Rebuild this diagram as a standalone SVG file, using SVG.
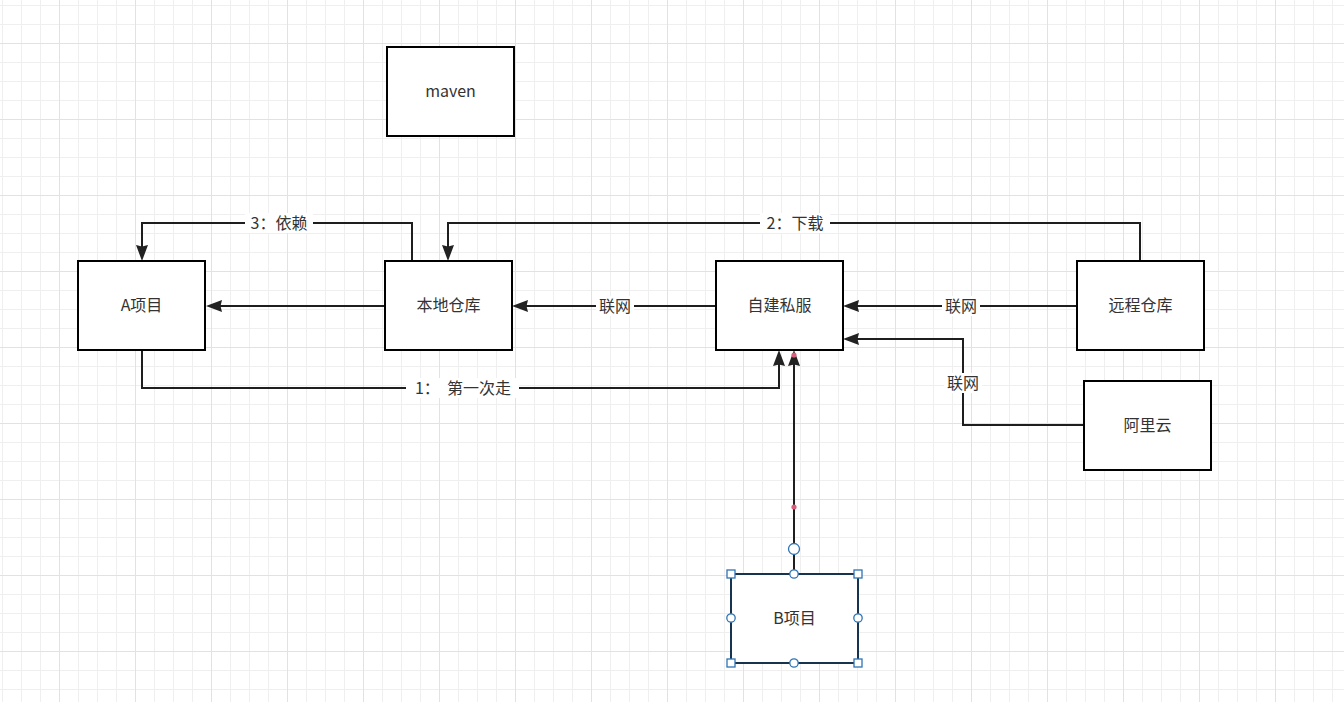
<svg xmlns="http://www.w3.org/2000/svg" width="1344" height="702" viewBox="0 0 1344 702">
  <style>
    .box { fill: #ffffff; stroke: #000000; stroke-width: 2; }
    .lbl { font-family: "Noto Sans CJK SC", "Noto Sans", "Liberation Sans", sans-serif; font-size: 16px; fill: #333333; text-anchor: middle; }
    .edge { fill: none; stroke: #1e1e1e; stroke-width: 2; marker-end: url(#arrow); }
    .lbg { fill: #ffffff; }
    .handle { fill: #ffffff; stroke: #2f73b5; stroke-width: 1.3; }
  </style>
  <defs>
    <pattern id="minor" width="19" height="19" patternUnits="userSpaceOnUse" x="2" y="5">
      <path d="M0,0.5 H19 M0.5,0 V19" stroke="#efefef" stroke-width="1" fill="none"/>
    </pattern>
    <pattern id="major" width="76" height="76" patternUnits="userSpaceOnUse" x="59" y="43">
      <path d="M0,0.5 H76 M0.5,0 V76" stroke="#e2e2e2" stroke-width="1" fill="none"/>
    </pattern>
    <marker id="arrow" viewBox="0 0 16 12" markerWidth="16" markerHeight="12" refX="3" refY="6" orient="auto" markerUnits="userSpaceOnUse">
      <path d="M0,0 L16,6 L0,12 L1.5,6 Z" fill="#222222"/>
    </marker>
  </defs>

  <rect x="0" y="0" width="1344" height="702" fill="#ffffff"/>
  <rect x="0" y="0" width="1344" height="702" fill="url(#minor)"/>
  <rect x="0" y="0" width="1344" height="702" fill="url(#major)"/>

  <g id="connectors">
    <path class="edge" d="M412,261 V223 H142 V248"/>
    <path class="edge" d="M1140,261 V223 H448 V248"/>
    <path class="edge" d="M385,306 H219"/>
    <path class="edge" d="M716,306 H525"/>
    <path class="edge" d="M1077,306 H856"/>
    <path class="edge" d="M1084,425 H963 V339 H856"/>
    <path class="edge" d="M142,350 V388 H779 V363"/>
    <path class="edge" d="M794,574 V363"/>

    <rect class="lbg" x="245" y="213" width="68" height="20"/>
    <text class="lbl" x="279" y="229">3：依赖</text>
    <rect class="lbg" x="760" y="213" width="70" height="20"/>
    <text class="lbl" x="795" y="229">2：下载</text>
    <rect class="lbg" x="596" y="296" width="38" height="20"/>
    <text class="lbl" x="615" y="312">联网</text>
    <rect class="lbg" x="942" y="296" width="38" height="20"/>
    <text class="lbl" x="961" y="312">联网</text>
    <rect class="lbg" x="944" y="373" width="38" height="20"/>
    <text class="lbl" x="963" y="389">联网</text>
    <rect class="lbg" x="406" y="378" width="113" height="20"/>
    <text class="lbl" x="463" y="394" xml:space="preserve">1：  第一次走</text>

    <circle cx="794" cy="355" r="2.6" fill="#d9607a"/>
    <circle cx="794" cy="507" r="2.6" fill="#d9607a"/>
  </g>

  <g id="maven">
    <rect class="box" x="387" y="47" width="127" height="89"/>
    <text class="lbl" x="450.5" y="97">maven</text>
  </g>
  <g id="a-project">
    <rect class="box" x="78" y="261" width="127" height="89"/>
    <text class="lbl" x="141.5" y="311">A项目</text>
  </g>
  <g id="local-repo">
    <rect class="box" x="385" y="261" width="127" height="89"/>
    <text class="lbl" x="448.5" y="311">本地仓库</text>
  </g>
  <g id="private-server">
    <rect class="box" x="716" y="261" width="127" height="89"/>
    <text class="lbl" x="779.5" y="311">自建私服</text>
  </g>
  <g id="remote-repo">
    <rect class="box" x="1077" y="261" width="127" height="89"/>
    <text class="lbl" x="1140.5" y="311">远程仓库</text>
  </g>
  <g id="aliyun">
    <rect class="box" x="1084" y="381" width="127" height="89"/>
    <text class="lbl" x="1147.5" y="431">阿里云</text>
  </g>
  <g id="b-project">
    <rect x="731" y="574" width="127" height="89" fill="#ffffff" stroke="#163350" stroke-width="2"/>
    <text class="lbl" x="794.5" y="624">B项目</text>
    <circle class="handle" cx="794" cy="549" r="5.5"/>
    <rect class="handle" x="727" y="570" width="8" height="8"/>
    <rect class="handle" x="854" y="570" width="8" height="8"/>
    <rect class="handle" x="727" y="659" width="8" height="8"/>
    <rect class="handle" x="854" y="659" width="8" height="8"/>
    <circle class="handle" cx="794" cy="574" r="4.2"/>
    <circle class="handle" cx="794" cy="663" r="4.2"/>
    <circle class="handle" cx="731" cy="618" r="4.2"/>
    <circle class="handle" cx="858" cy="618" r="4.2"/>
  </g>
</svg>
